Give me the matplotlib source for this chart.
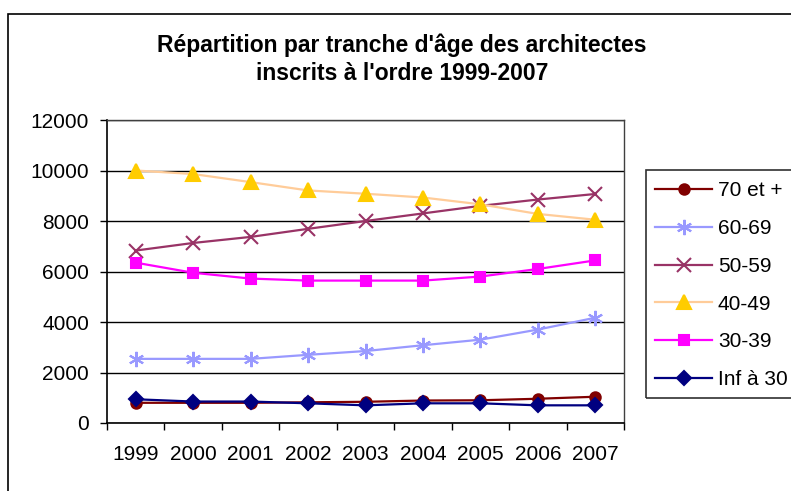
import matplotlib
matplotlib.use("Agg")
import matplotlib.pyplot as plt
from matplotlib.patches import Rectangle

plt.rcParams['font.family'] = ['Liberation Sans', 'DejaVu Sans']

years = ["1999", "2000", "2001", "2002", "2003", "2004", "2005", "2006", "2007"]
s70 = [800, 800, 800, 820, 840, 890, 900, 960, 1040]
s60 = [2540, 2540, 2540, 2700, 2850, 3080, 3300, 3700, 4170]
s50 = [6830, 7130, 7370, 7690, 8000, 8300, 8600, 8850, 9070]
s40 = [10000, 9860, 9540, 9210, 9080, 8930, 8660, 8280, 8050]
s30 = [6350, 5950, 5720, 5640, 5640, 5640, 5800, 6100, 6440]
sinf = [940, 850, 850, 780, 700, 780, 780, 700, 700]
labels = ["70 et +", "60-69", "50-59", "40-49", "30-39", "Inf à 30"]
yticks = [0, 2000, 4000, 6000, 8000, 10000, 12000]

W, H = 791, 491
fig = plt.figure(figsize=(W / 100, H / 100), dpi=100)
fig.patch.set_facecolor('white')
fig.patches.append(Rectangle((8 / W, -0.1), 1.2, 1 - 14 / H + 0.1, transform=fig.transFigure,
                             fill=False, edgecolor='black', linewidth=1.2))
# legend frame
fig.patches.append(Rectangle((646 / W, 1 - 398 / H), 0.5, (398 - 170) / H, transform=fig.transFigure,
                             fill=False, edgecolor='#303030', linewidth=1.2))

ax = fig.add_axes([107 / W, 1 - 423 / H, (624 - 107) / W, (423 - 120) / H])
x = list(range(len(years)))

styles = [
    dict(data=s70, color='#800000', marker='o', mfc='#800000', mec='#800000', ms=7.5),
    dict(data=s60, color='#9999FF', marker=(6, 2, 0), mfc='#9999FF', mec='#9999FF', ms=11),
    dict(data=s50, color='#993366', marker='x', mfc='#993366', mec='#993366', ms=9.5),
    dict(data=s40, color='#FFCC99', marker='^', mfc='#FFCC00', mec='#FFCC00', ms=10),
    dict(data=s30, color='#FF00FF', marker='s', mfc='#FF00FF', mec='#FF00FF', ms=7.5),
    dict(data=sinf, color='#000080', marker='D', mfc='#000080', mec='#000080', ms=7.5),
]
for lab, st in zip(labels, styles):
    ax.plot(x, st['data'], color=st['color'], lw=1.6, marker=st['marker'],
            markerfacecolor=st['mfc'], markeredgecolor=st['mec'], markersize=st['ms'],
            markeredgewidth=1.5, label=lab, clip_on=False, zorder=3)

ax.set_xlim(-0.5, len(years) - 0.5)
ax.set_ylim(0, 12000)
ax.set_yticks(yticks)
ax.set_yticklabels([str(v) for v in yticks], fontsize=15)
ax.set_xticks(x)
ax.set_xticklabels(years, fontsize=15)
ax.set_xticks([i - 0.5 for i in range(len(years) + 1)], minor=True)
ax.tick_params(axis='x', which='major', length=0, pad=16)
ax.tick_params(axis='x', which='minor', length=5, width=1, direction='out')
ax.tick_params(axis='y', length=5, width=1, direction='out', pad=8)
ax.yaxis.grid(True, color='black', linewidth=1)
ax.set_axisbelow(True)
for s in ['top', 'right']:
    ax.spines[s].set_color('#404040')
    ax.spines[s].set_linewidth(1)
for s in ['left', 'bottom']:
    ax.spines[s].set_color('black')
    ax.spines[s].set_linewidth(1.2)

fig.text(402 / W, 1 - 59 / H, "Répartition par tranche d'âge des architectes\ninscrits à l'ordre 1999-2007",
         ha='center', va='center', fontsize=16.5, fontweight='bold', linespacing=1.25)

leg = fig.legend(loc='upper left', bbox_to_anchor=(646 / W, 1 - 172 / H), fontsize=15,
                 frameon=False, handlelength=2.7,
                 labelspacing=0.9, borderpad=0.45, handletextpad=0.3, borderaxespad=0)

fig.savefig("out.png", dpi=100)
